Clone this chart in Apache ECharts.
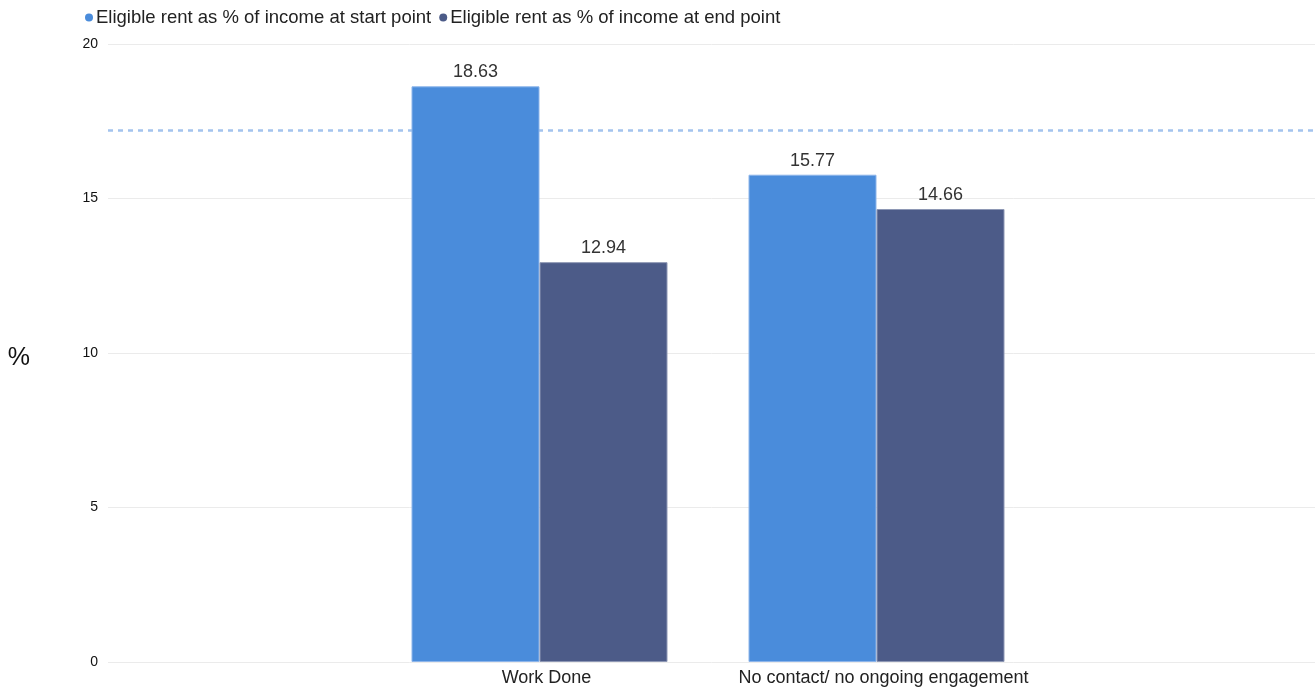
<!DOCTYPE html>
<html>
<head>
<meta charset="utf-8">
<style>
  html, body { margin: 0; padding: 0; background: #fff; }
  #chart { width: 1315px; height: 689px; }
</style>
<script src="https://cdn.jsdelivr.net/npm/echarts@6/dist/echarts.min.js"></script>
</head>
<body>
<div id="chart"></div>
<script>
// Categories and values
const categories = ['Work Done', 'No contact/ no ongoing engagement'];
const startLabel = 'Eligible rent as % of income at start point';
const endLabel = 'Eligible rent as % of income at end point';
const startValues = [18.63, 15.77];
const endValues = [12.94, 14.66];
const yTicks = { min: 0, max: 20, interval: 5 };

const FONT = '"Liberation Sans", Arial, sans-serif';
const START_COLOR = '#4a8cdb';
const END_COLOR = '#4c5b88';

const chart = echarts.init(document.getElementById('chart'));

const barLabel = {
  show: true,
  position: 'top',
  distance: 5,
  fontFamily: FONT,
  fontSize: 18,
  color: '#333'
};

chart.setOption({
  animation: false,
  textStyle: { fontFamily: FONT },
  legend: {
    left: 80,
    top: 3,
    icon: 'circle',
    itemWidth: 8,
    itemHeight: 8,
    itemGap: 8,
    itemStyle: { borderWidth: 0 },
    textStyle: { fontFamily: FONT, fontSize: 18.5, color: '#222', padding: [0, 0, 0, -2] },
    data: [startLabel, endLabel]
  },
  grid: [
    // full-width frame: y axis, split lines, average line
    { left: 108, right: 0, top: 44, bottom: 27 },
    // bars
    { left: 371, right: 270, top: 44, bottom: 27 }
  ],
  xAxis: [
    { type: 'category', gridIndex: 0, data: categories, show: false },
    {
      type: 'category',
      gridIndex: 1,
      data: categories,
      axisLine: { show: false },
      axisTick: { show: false },
      axisLabel: {
        interval: 0,
        fontFamily: FONT,
        fontSize: 18,
        color: '#222',
        margin: 7,
        padding: [0, 0, 0, 14]
      }
    }
  ],
  yAxis: [
    {
      type: 'value',
      gridIndex: 0,
      min: yTicks.min,
      max: yTicks.max,
      interval: yTicks.interval,
      name: '%',
      nameLocation: 'middle',
      nameRotate: 0,
      nameGap: 78,
      nameTextStyle: { fontFamily: FONT, fontSize: 25, color: '#111', verticalAlign: 'top', lineHeight: 10 },
      axisLine: { show: false },
      axisTick: { show: false },
      axisLabel: { fontFamily: FONT, fontSize: 14, color: '#111', margin: 10 },
      splitLine: { lineStyle: { color: '#ebebeb', width: 1 } }
    },
    {
      type: 'value',
      gridIndex: 1,
      min: yTicks.min,
      max: yTicks.max,
      interval: yTicks.interval,
      show: false,
      splitLine: { show: false }
    }
  ],
  series: [
    {
      name: startLabel,
      type: 'bar',
      xAxisIndex: 1,
      yAxisIndex: 1,
      data: startValues,
      barWidth: 128,
      barGap: '0%',
      itemStyle: { color: START_COLOR, borderColor: '#8db5ea', borderWidth: 1 },
      label: barLabel,
      z: 3
    },
    {
      name: endLabel,
      type: 'bar',
      xAxisIndex: 1,
      yAxisIndex: 1,
      data: endValues,
      barWidth: 128,
      barGap: '0%',
      itemStyle: { color: END_COLOR, borderColor: '#8e98b5', borderWidth: 1 },
      label: barLabel,
      z: 3
    },
    {
      // average of the start-point values, drawn across the full width behind the bars
      name: startLabel + ' average',
      type: 'line',
      xAxisIndex: 0,
      yAxisIndex: 0,
      data: startValues,
      symbol: 'none',
      lineStyle: { opacity: 0 },
      silent: true,
      z: 1,
      markLine: {
        z: 1,
        silent: true,
        symbol: ['none', 'none'],
        label: { show: false },
        lineStyle: { color: '#a3c3ee', type: [5, 5], width: 2.5, opacity: 1 },
        emphasis: { disabled: true },
        data: [{ type: 'average' }]
      }
    }
  ]
});
</script>
</body>
</html>
